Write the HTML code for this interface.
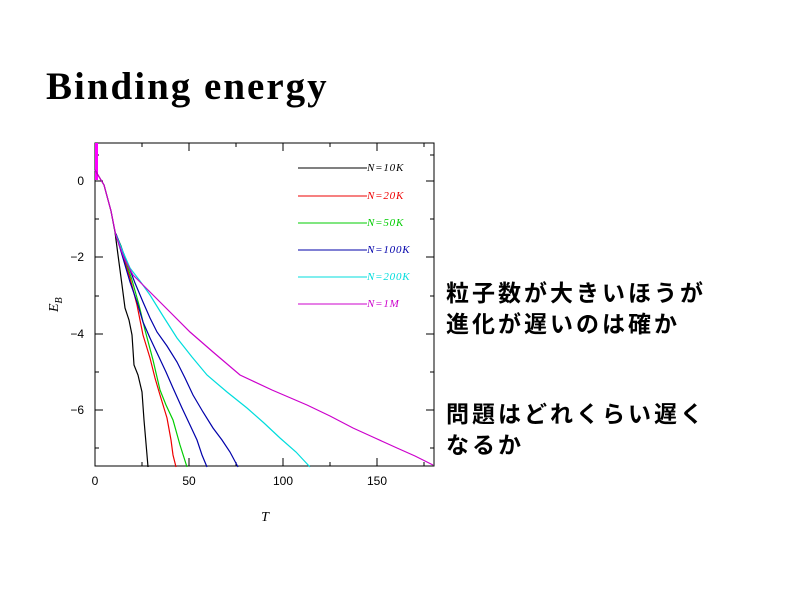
<!DOCTYPE html><html><head><meta charset="utf-8"><style>
body{margin:0;width:800px;height:600px;background:#fff;overflow:hidden;position:relative}
.t{position:absolute;font-family:"Liberation Serif",serif}
.j{position:absolute;left:446px;font-family:"Liberation Sans","Noto Sans CJK JP",sans-serif;font-size:23px;letter-spacing:3px;font-weight:bold;color:#000;white-space:nowrap}
</style></head><body>
<div class="t" style="left:46px;top:64px;font-size:39px;font-weight:bold;letter-spacing:2px">Binding energy</div>
<div class="j" style="top:274px">粒子数が大きいほうが</div>
<div class="j" style="top:305px">進化が遅いのは確か</div>
<div class="j" style="top:395px">問題はどれくらい遅く</div>
<div class="j" style="top:426px">なるか</div>
<svg width="800" height="600" style="position:absolute;left:0;top:0" font-family="Liberation Sans,sans-serif">
<g stroke="#000" fill="none" stroke-width="1">
<rect x="95" y="143" width="339" height="323"/>
<path d="M95 466v-8M189 466v-8M283 466v-8M377 466v-8M142 466v-4M236 466v-4M330 466v-4M424 466v-4
M95 143v8M189 143v8M283 143v8M377 143v8M142 143v4M236 143v4M330 143v4M424 143v4
M95 181h8M95 257h8M95 334h8M95 410h8M95 219h4M95 296h4M95 372h4M95 448h4M95 155h4
M434 181h-8M434 257h-8M434 334h-8M434 410h-8M434 219h-4M434 296h-4M434 372h-4M434 448h-4M434 155h-4"/>
</g>
<g font-size="12" fill="#000">
<text x="95" y="485" text-anchor="middle">0</text><text x="189" y="485" text-anchor="middle">50</text>
<text x="283" y="485" text-anchor="middle">100</text><text x="377" y="485" text-anchor="middle">150</text>
<text x="84" y="185" text-anchor="end">0</text><text x="84" y="261" text-anchor="end">−2</text>
<text x="84" y="338" text-anchor="end">−4</text><text x="84" y="414" text-anchor="end">−6</text>
</g>
<text x="265" y="521" font-family="Liberation Serif,serif" font-style="italic" font-size="14" text-anchor="middle">T</text>
<g transform="translate(58,312) rotate(-90)" font-family="Liberation Serif,serif" font-style="italic" font-size="14"><text>E<tspan font-size="10" dy="4">B</tspan></text></g>
<g fill="none" stroke-width="1.2">
<path stroke="#f0f" stroke-width="3" d="M96.5 143V180"/>
<path stroke="#000" d="M95 170L98 175L104 185L111 211L115 232L118 255L120 270L122 285L125 308L129 320L132 335L133 350L134 365L138 375L142 392L144 420L147 455L148 467"/>
<path stroke="#e00" d="M115 232L120 245L125 262L130 278L137 305L143 335L150 358L155 378L160 395L167 418L171 440L173 455L176 467"/>
<path stroke="#0c0" d="M115 232L121 246L126 262L132 280L139 305L145 330L153 360L160 390L166 405L173 420L180 445L187 467"/>
<path stroke="#00a" d="M115 232L120 248L130 282L137 302L143 322L150 338L158 355L166 372L173 388L182 408L190 425L197 440L202 455L207 467"/>
<path stroke="#00a" d="M116 234L127 262L135 283L143 302L150 318L157 332L167 346L177 362L185 378L193 395L203 412L213 428L222 440L230 452L238 467"/>
<path stroke="#0dd" d="M116 235L123 252L130 268L140 281L150 295L163 316L177 338L192 357L207 375L227 392L247 408L264 423L280 438L296 452L310 467"/>
<path stroke="#c0c" d="M95 170L98 175L104 185L111 211L116 236L124 258L133 275L143 285L153 295L170 312L190 332L213 352L240 375L272 390L307 405L330 416L353 428L375 438L397 448L415 456L433 465"/>
</g>
<g stroke-width="1">
<path stroke="#000" d="M298 168H367"/><path stroke="#e00" d="M298 196H367"/><path stroke="#0c0" d="M298 223H367"/>
<path stroke="#00a" d="M298 250H367"/><path stroke="#0dd" d="M298 277H367"/><path stroke="#c0c" d="M298 304H367"/>
</g>
<g font-family="Liberation Serif,serif" font-style="italic" font-size="11" letter-spacing="0.8">
<text x="367" y="171" fill="#000">N=10K</text><text x="367" y="199" fill="#e00">N=20K</text>
<text x="367" y="226" fill="#0c0">N=50K</text><text x="367" y="253" fill="#00a">N=100K</text>
<text x="367" y="280" fill="#0dd">N=200K</text><text x="367" y="307" fill="#c0c">N=1M</text>
</g>
</svg>
</body></html>
